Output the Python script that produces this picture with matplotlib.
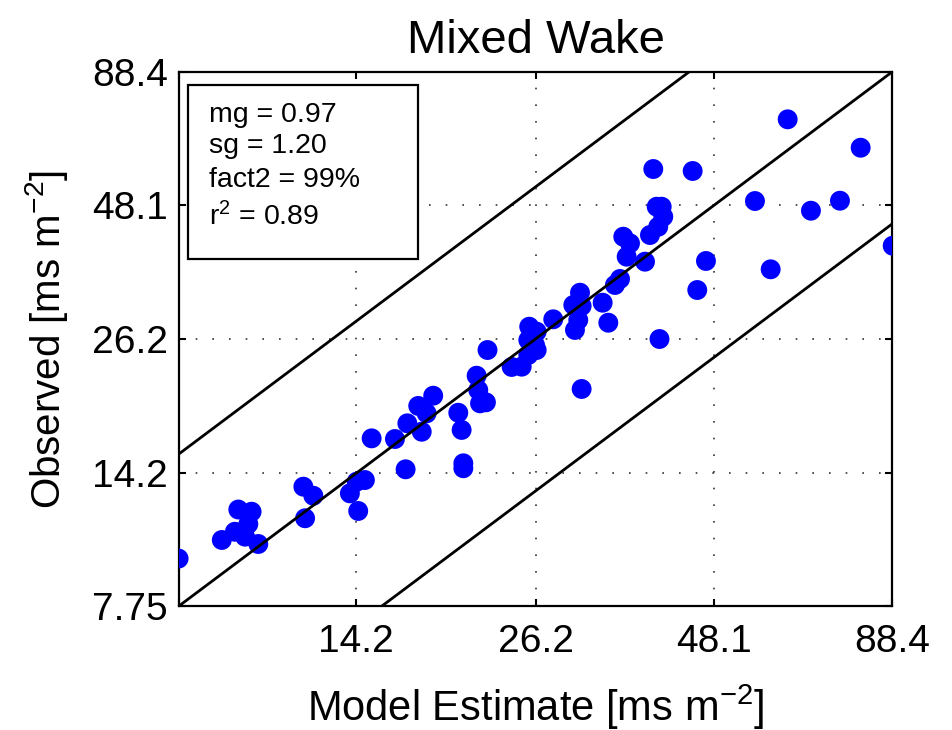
import numpy as np
import matplotlib
matplotlib.use('Agg')
import matplotlib.pyplot as plt
from matplotlib.patches import Rectangle

plt.rcParams['font.family'] = ['Liberation Sans', 'DejaVu Sans']
plt.rcParams['mathtext.fontset'] = 'custom'
plt.rcParams['mathtext.rm'] = 'Liberation Sans'
plt.rcParams['mathtext.it'] = 'Liberation Sans:italic'
plt.rcParams['mathtext.default'] = 'regular'

# model estimate vs observed
model = [7.74, 8.97, 9.49, 9.93, 9.82, 9.38, 9.71, 10.16, 11.85, 12.26,
         11.92, 13.89, 14.22, 14.62, 14.29, 14.96, 16.20, 16.90, 16.80, 17.75,
         17.54, 18.05, 18.46, 20.11, 20.34, 20.46, 20.46, 21.41, 21.53, 21.66,
         22.10, 22.22, 24.13, 24.97, 25.54, 26.28, 26.13, 25.54, 26.28, 25.62,
         27.81, 29.95, 30.29, 29.78, 30.64, 30.47, 32.92, 33.56, 30.64, 34.33,
         34.93, 35.32, 36.14, 35.73, 38.04, 38.69, 39.80, 40.49, 39.59, 40.27,
         39.13, 39.97, 44.76, 45.47, 46.84, 55.37, 58.42, 61.91, 67.03, 74.01,
         79.43, 88.60]
observed = [9.62, 10.47, 12.03, 11.91, 11.26, 10.87, 10.63, 10.28, 13.35, 12.81,
            11.56, 12.95, 13.66, 13.76, 11.95, 16.64, 16.59, 17.82, 14.45, 17.15,
            19.29, 18.65, 20.21, 18.70, 17.29, 14.85, 14.52, 22.14, 20.74, 19.52,
            19.61, 24.89, 23.04, 23.07, 24.33, 24.89, 25.47, 26.05, 27.06, 27.68,
            28.63, 27.27, 28.54, 30.56, 30.42, 32.32, 30.88, 28.19, 20.84, 33.48,
            34.41, 41.72, 40.48, 38.09, 37.23, 42.04, 43.66, 45.70, 47.83, 47.83,
            56.80, 26.17, 56.29, 32.72, 37.35, 49.09, 35.96, 71.24, 46.97, 49.16,
            62.59, 40.04]

ticks = [7.75, 14.2, 26.2, 48.1, 88.4]
tick_labels = ['7.75', '14.2', '26.2', '48.1', '88.4']
stats = ['mg = 0.97', 'sg = 1.20', 'fact2 = 99%', 'r$^2$ = 0.89']

fig = plt.figure(figsize=(9.53, 7.30), dpi=100)
ax = fig.add_axes([0.1878, 0.1699, 0.7482, 0.7315])

ax.set_xscale('log')
ax.set_yscale('log')
ax.set_xlim(ticks[0], ticks[-1])
ax.set_ylim(ticks[0], ticks[-1])

ax.scatter(model, observed, s=205, color='#0000ff', edgecolors='none', zorder=3)

xs = np.array([ticks[0], ticks[-1]])
for f in [0.5, 1.0, 2.0]:
    ax.plot(xs, xs * f, color='black', lw=2.0, zorder=4)

ax.set_xticks(ticks)
ax.set_xticklabels([''] + tick_labels[1:])
ax.set_yticks(ticks)
ax.set_yticklabels(tick_labels)
ax.xaxis.set_minor_locator(matplotlib.ticker.NullLocator())
ax.yaxis.set_minor_locator(matplotlib.ticker.NullLocator())
ax.tick_params(axis='both', direction='in', length=5, width=1.5,
               top=True, right=True, labelsize=28)
ax.tick_params(axis='x', pad=13)
ax.tick_params(axis='y', pad=8)
ax.grid(True, linestyle=(0, (1, 9)), color='#333333', lw=1.2, zorder=1)
for s in ax.spines.values():
    s.set_linewidth(1.6)

ax.set_title('Mixed Wake', fontsize=34, pad=14)
ax.set_xlabel('Model Estimate [ms m$^{-2}$]', fontsize=30, labelpad=16)
ax.set_ylabel('Observed [ms m$^{-2}$]', fontsize=29, labelpad=16)

ax.add_patch(Rectangle((0.0126, 0.650), 0.3226, 0.3257, transform=ax.transAxes,
                       facecolor='white', edgecolor='black', lw=1.6, zorder=5))
for txt, yb in zip(stats, [0.906, 0.848, 0.785, 0.712]):
    ax.text(0.042, yb, txt, transform=ax.transAxes, fontsize=20.5,
            va='baseline', ha='left', zorder=6)

fig.savefig('out.png', dpi=100)
